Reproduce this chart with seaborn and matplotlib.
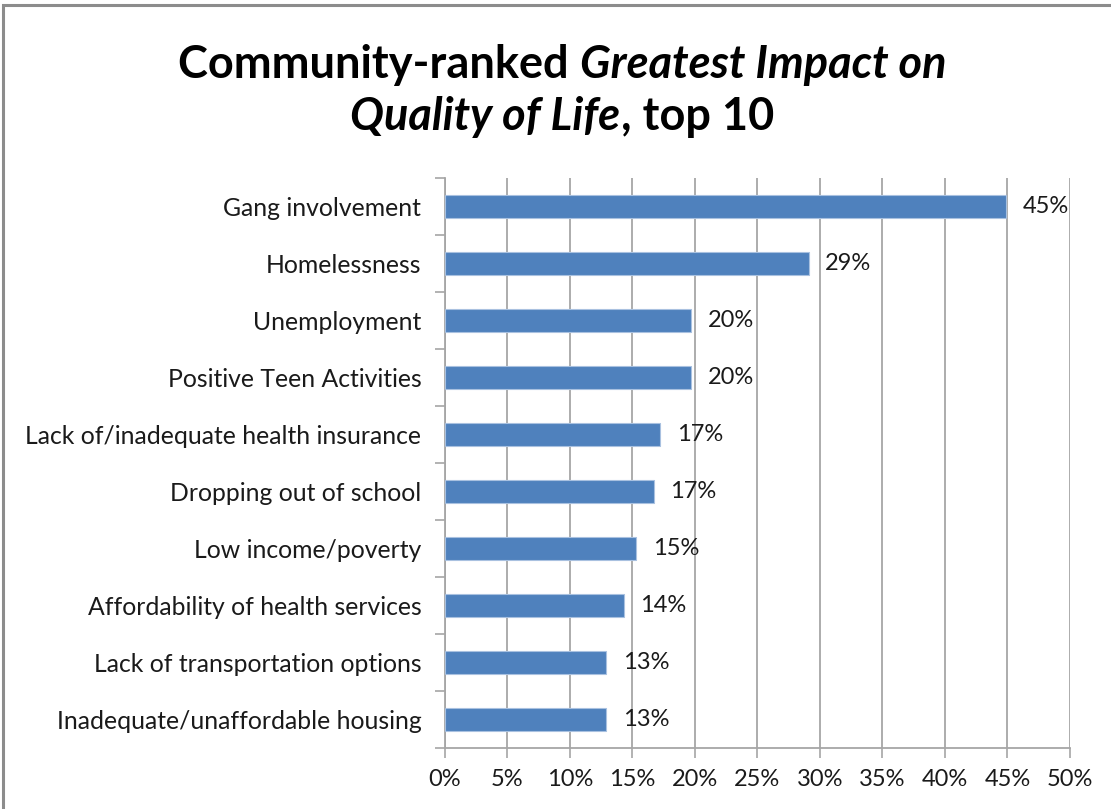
import numpy as np
import pandas as pd
import matplotlib
matplotlib.use("Agg")
from matplotlib.pylab import plt
from matplotlib.patches import Rectangle
from matplotlib.ticker import MultipleLocator, PercentFormatter
import seaborn as sns

# data
categories = [
    "Gang involvement",
    "Homelessness",
    "Unemployment",
    "Positive Teen Activities",
    "Lack of/inadequate health insurance",
    "Dropping out of school",
    "Low income/poverty",
    "Affordability of health services",
    "Lack of transportation options",
    "Inadequate/unaffordable housing",
]
values = [44.9, 29.1, 19.7, 19.7, 17.2, 16.7, 15.3, 14.3, 12.9, 12.9]
value_labels = ["45%", "29%", "20%", "20%", "17%", "17%", "15%", "14%", "13%", "13%"]
x_ticks = [0, 5, 10, 15, 20, 25, 30, 35, 40, 45, 50]

df = pd.DataFrame({"issue": categories, "share": values})

sns.set_style("white")
font = "Lato"
plt.rcParams["font.family"] = [font, "DejaVu Sans"]

bar_col = "#4F81BD"
grid_col = "#A6A6A6"
text_col = "#1A1A1A"

fig = plt.figure(figsize=(11.11, 8.09), dpi=100)
ax = fig.add_axes([0.4005, 0.0754, 0.5625, 0.7046])

sns.barplot(data=df, x="share", y="issue", order=categories, color=bar_col,
            width=0.42, saturation=1, edgecolor="#A9C1E0", linewidth=0.8,
            ax=ax, zorder=3)

ax.bar_label(ax.containers[0], labels=value_labels, padding=12,
             fontsize=17, color=text_col)

# axes, grid, ticks
ax.set_xlim(0, 50)
ax.set_ylim(len(categories) - 0.5, -0.5)
ax.set_xticks(x_ticks)
ax.xaxis.set_major_formatter(PercentFormatter(decimals=0))
ax.grid(axis="x", color=grid_col, lw=1.3, zorder=0)
ax.set_xlabel("")
ax.set_ylabel("")

ax.yaxis.set_minor_locator(MultipleLocator(1, offset=0.5))
ax.tick_params(axis="y", which="major", length=0, pad=17, labelsize=17.8,
               labelcolor=text_col)
ax.tick_params(axis="y", which="minor", left=True, length=7, width=1.2,
               color=grid_col)
ax.tick_params(axis="x", bottom=True, length=7, width=1.2, color=grid_col,
               labelsize=17, labelcolor=text_col, pad=8)

for side in ["top", "right"]:
    ax.spines[side].set_visible(False)
for side in ["left", "bottom"]:
    ax.spines[side].set_color(grid_col)
    ax.spines[side].set_linewidth(1.3)

# frame round the chart area (only left and top show in the crop)
fig.patches.append(Rectangle((0.003, -0.2), 1.2, 1.194, transform=fig.transFigure,
                             fill=False, edgecolor="#8C8C8C", lw=2.2, clip_on=False))

# title with mixed bold / bold-italic pieces, centred per line
title_lines = [
    [("Community-ranked ", "normal"), ("Greatest Impact on", "italic")],
    [("Quality of Life", "italic"), (", top 10", "normal")],
]
title_y = [0.9036, 0.839]
renderer = fig.canvas.get_renderer()
for pieces, y in zip(title_lines, title_y):
    texts = []
    for s, style in pieces:
        t = fig.text(0, y, s, fontsize=32.5, fontweight="bold", style=style,
                     color="black", va="baseline", ha="left")
        texts.append(t)
    widths = [t.get_window_extent(renderer).width / fig.bbox.width for t in texts]
    x = 0.506 - sum(widths) / 2
    for t, w in zip(texts, widths):
        t.set_x(x)
        x += w

fig.savefig("out.png", dpi=100)
